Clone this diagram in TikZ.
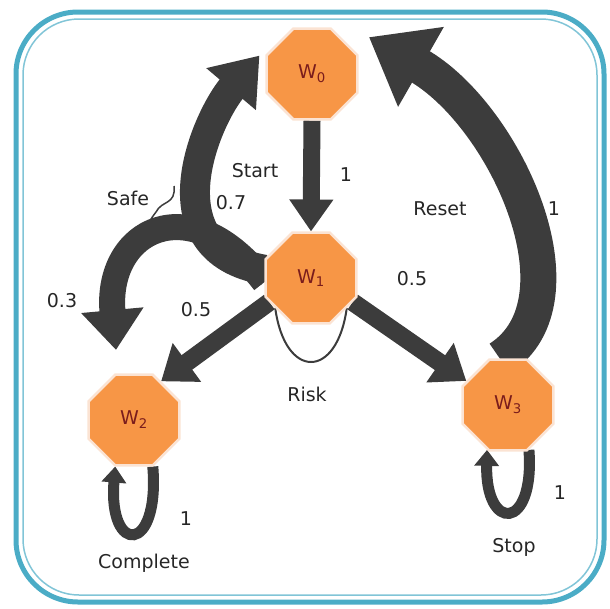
\documentclass[tikz,border=0pt]{standalone}
\usepackage{fontspec}
\setmainfont{DejaVu Sans}
\usetikzlibrary{shapes.geometric, arrows.meta, backgrounds}
\definecolor{frameblue}{HTML}{4BACC6}
\definecolor{stateorange}{HTML}{F79646}
\definecolor{stateedge}{HTML}{FBE3D3}
\definecolor{statetext}{HTML}{7A1C1C}
\definecolor{flowgray}{HTML}{3C3C3C}

\tikzset{
  state/.style={regular polygon, regular polygon sides=8,
    minimum size=98pt, inner sep=0pt, fill=stateorange, draw=stateedge, line width=2.5pt,
    text=statetext, font=\fontsize{19}{21}\selectfont},
  lbl/.style={font=\fontsize{19}{21}\selectfont, text=black!85},
  flow/.style={draw=flowgray, line width=#1},
}

\begin{document}
\begin{tikzpicture}[x=1pt,y=-1pt]
\useasboundingbox (0,0) rectangle (610,608);
% frame
\draw[frameblue, line width=5pt, rounded corners=62pt] (16,12) rectangle (604,602);
\draw[frameblue!70, line width=1.5pt, rounded corners=56pt] (23,19) rectangle (597,595);

% states
\node[state] (w0) at (312,74) {W\textsubscript{0}};
\node[state] (w1) at (311,278) {W\textsubscript{1}};
\node[state] (w2) at (134,420) {W\textsubscript{2}};
\node[state] (w3) at (508,405) {W\textsubscript{3}};
\coordinate (safeend) at (116,350);
\coordinate (safea) at (174,186);
\coordinate (safeb) at (150,242);

\begin{scope}[on background layer]
% straight flows
\draw[flow=17pt, -{Triangle[width=42pt,length=32pt]}] (w0.south) -- (w1.north);
\draw[flow=18pt, -{Triangle[width=46pt,length=32pt]}] (w1.210) -- (w2.55);
\draw[flow=18pt, -{Triangle[width=46pt,length=32pt]}] (w1.-30) -- (w3.150);
% safe 0.3 and 0.7
\draw[flow=26pt, -{Triangle[width=60pt,length=40pt]}] (w1.185) .. controls (190,185) and (105,230) .. (safeend);
\draw[flow=30pt, -{Triangle[width=62pt,length=44pt]}] (w1.170) .. controls (150,250) and (205,120) .. ([xshift=-6pt,yshift=6pt]w0.165);
% reset
\draw[flow=36pt, -{Triangle[width=88pt,length=60pt]}] (w3.100) .. controls (590,300) and (505,115) .. ([xshift=24pt,yshift=4pt]w0.north east);
% loops
\draw[flow=11pt, -{Triangle[width=24pt,length=16pt]}] (w2.-68) .. controls (160,555) and (108,555) .. (w2.-112);
\draw[flow=11pt, -{Triangle[width=24pt,length=16pt]}] (w3.-65) .. controls (535,532) and (485,532) .. (w3.-115);
% risk and safe lines
\draw[flowgray, line width=2pt] (w1.-140) .. controls (285,380) and (337,380) .. (w1.-40);
\draw[flowgray, line width=1.5pt] (safea) .. controls (176,205) and (162,200) .. (156,212) .. controls (146,225) and (142,235) .. (safeb);
\end{scope}

% labels
\node[lbl] (lstart) at (255,171) {Start};
\node[lbl] (lone) at (346,175) {1};
\node[lbl] (lsafe) at (128,198) {Safe};
\node[lbl] (lseven) at (231,203) {0.7};
\node[lbl] (lreset) at (440,209) {Reset};
\node[lbl] (lresetp) at (554,209) {1};
\node[lbl] (lthree) at (62,301) {0.3};
\node[lbl] (lhalfa) at (196,310) {0.5};
\node[lbl] (lhalfb) at (412,279) {0.5};
\node[lbl] (lrisk) at (307,394) {Risk};
\node[lbl] (lcompp) at (186,519) {1};
\node[lbl] (lcomplete) at (144,563) {Complete};
\node[lbl] (lstopp) at (560,493) {1};
\node[lbl] (lstop) at (514,547) {Stop};
\end{tikzpicture}
\end{document}
